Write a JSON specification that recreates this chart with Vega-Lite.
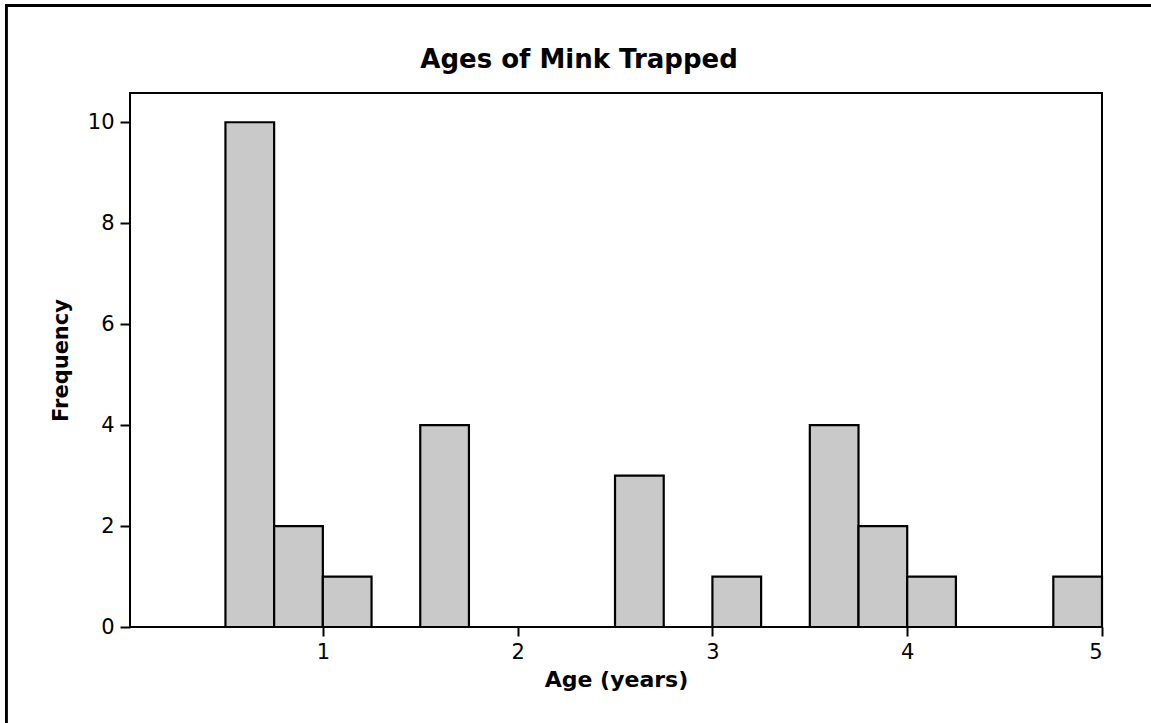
{
  "$schema": "https://vega.github.io/schema/vega-lite/v6.json",
  "width": 972,
  "height": 534,
  "autosize": {"type": "none"},
  "padding": {"left": 130, "top": 93, "right": 49, "bottom": 96},
  "background": "white",
  "title": {
    "text": "Ages of Mink Trapped",
    "font": "DejaVu Sans",
    "fontSize": 26,
    "fontWeight": "bold",
    "color": "black",
    "anchor": "middle",
    "frame": "group",
    "baseline": "alphabetic",
    "offset": -89,
    "dx": -37
  },
  "config": {
    "view": {"stroke": "black", "strokeWidth": 2},
    "axis": {
      "domain": false,
      "grid": false,
      "tickColor": "black",
      "tickWidth": 2,
      "labelColor": "black",
      "labelFont": "DejaVu Sans",
      "labelFontSize": 21,
      "titleColor": "black",
      "titleFont": "DejaVu Sans",
      "titleFontWeight": "bold",
      "titleFontSize": 21
    }
  },
  "data": {
    "values": [
      {"bin_start": 0.5, "bin_end": 0.75, "count": 10},
      {"bin_start": 0.75, "bin_end": 1.0, "count": 2},
      {"bin_start": 1.0, "bin_end": 1.25, "count": 1},
      {"bin_start": 1.25, "bin_end": 1.5, "count": 0},
      {"bin_start": 1.5, "bin_end": 1.75, "count": 4},
      {"bin_start": 1.75, "bin_end": 2.0, "count": 0},
      {"bin_start": 2.0, "bin_end": 2.25, "count": 0},
      {"bin_start": 2.25, "bin_end": 2.5, "count": 0},
      {"bin_start": 2.5, "bin_end": 2.75, "count": 3},
      {"bin_start": 2.75, "bin_end": 3.0, "count": 0},
      {"bin_start": 3.0, "bin_end": 3.25, "count": 1},
      {"bin_start": 3.25, "bin_end": 3.5, "count": 0},
      {"bin_start": 3.5, "bin_end": 3.75, "count": 4},
      {"bin_start": 3.75, "bin_end": 4.0, "count": 2},
      {"bin_start": 4.0, "bin_end": 4.25, "count": 1},
      {"bin_start": 4.25, "bin_end": 4.5, "count": 0},
      {"bin_start": 4.5, "bin_end": 4.75, "count": 0},
      {"bin_start": 4.75, "bin_end": 5.0, "count": 1}
    ]
  },
  "layer": [
    {
      "mark": {"type": "rect", "fill": "#c9c9c9", "stroke": "black", "strokeWidth": 2.2},
      "encoding": {
        "x": {
          "field": "bin_start",
          "type": "quantitative",
          "scale": {"domain": [0.01, 5], "nice": false, "zero": false},
          "axis": {
            "values": [1, 2, 3, 4, 5],
            "format": "d",
            "tickSize": 9,
            "labelPadding": 5,
            "title": "Age (years)",
            "titleFontSize": 22,
            "titlePadding": 7
          }
        },
        "x2": {"field": "bin_end"},
        "y": {
          "field": "count",
          "type": "quantitative",
          "scale": {"domain": [0, 10.58], "nice": false},
          "axis": {
            "values": [0, 2, 4, 6, 8, 10],
            "format": "d",
            "tickSize": 10,
            "labelPadding": 6,
            "title": "Frequency",
            "titlePadding": 16
          }
        },
        "y2": {"datum": 0}
      }
    },
    {
      "mark": {"type": "rect", "fill": null, "fillOpacity": 0, "stroke": "black", "strokeWidth": 2, "clip": false},
      "encoding": {
        "x": {"datum": -0.626},
        "x2": {"datum": 5.4},
        "y": {"datum": 12.31},
        "y2": {"datum": -2.5}
      }
    }
  ]
}
